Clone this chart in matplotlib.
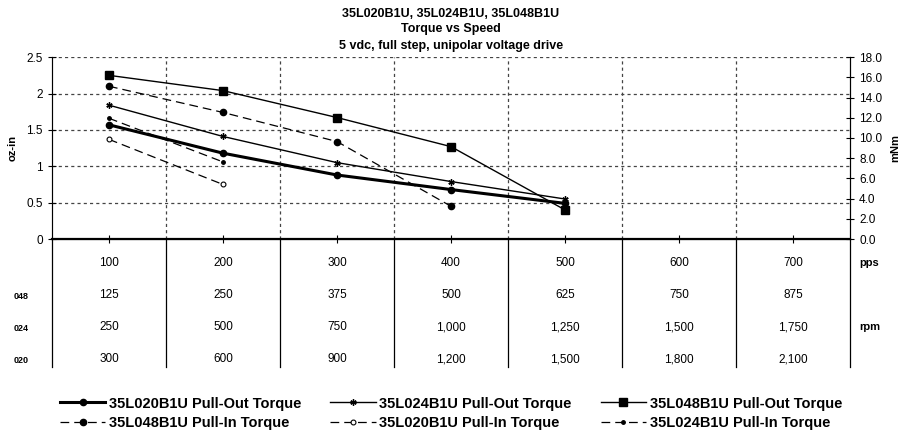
import matplotlib.pyplot as plt

pps = [100, 200, 300, 400, 500, 600, 700]
rpm_048 = ["125", "250", "375", "500", "625", "750", "875"]
rpm_024 = ["250", "500", "750", "1,000", "1,250", "1,500", "1,750"]
rpm_020 = ["300", "600", "900", "1,200", "1,500", "1,800", "2,100"]

po_020 = [1.57, 1.18, 0.88, 0.68, 0.49]
po_024 = [1.84, 1.41, 1.05, 0.79, 0.55]
po_048 = [2.25, 2.04, 1.67, 1.27, 0.40]
pi_048 = [2.10, 1.74, 1.34, 0.45]
pi_020 = [1.37, 0.75]
pi_024 = [1.66, 1.06]

plt.rcParams['font.family'] = ['Liberation Sans', 'DejaVu Sans']
NARROW = ['Liberation Sans Narrow', 'Liberation Sans', 'DejaVu Sans']


def main():
    fig = plt.figure(figsize=(9.02, 4.33), dpi=100)
    ax = fig.add_axes([0.0576, 0.448, 0.8848, 0.42])
    xs = [i + 0.5 for i in range(len(pps))]
    dash = (0, (7, 4))

    l1, = ax.plot(xs[:len(po_020)], po_020, color='k', lw=2.2, marker='o', ms=4.5,
                  label='35L020B1U Pull-Out Torque')
    l2, = ax.plot(xs[:len(po_024)], po_024, color='k', lw=1, marker=(6, 2, 0), ms=4.5,
                  mew=1, label='35L024B1U Pull-Out Torque')
    l3, = ax.plot(xs[:len(po_048)], po_048, color='k', lw=1, marker='s', ms=6,
                  label='35L048B1U Pull-Out Torque')
    l4, = ax.plot(xs[:len(pi_048)], pi_048, color='k', lw=0.9, ls=dash, marker='o', ms=4.5,
                  label='35L048B1U Pull-In Torque')
    l5, = ax.plot(xs[:len(pi_020)], pi_020, color='k', lw=0.9, ls=dash, marker='o', ms=3.5,
                  mfc='white', mew=0.8, label='35L020B1U Pull-In Torque')
    l6, = ax.plot(xs[:len(pi_024)], pi_024, color='k', lw=0.9, ls=dash, marker='o', ms=2.5,
                  label='35L024B1U Pull-In Torque')

    ax.set_xlim(0, 7)
    ax.set_ylim(0, 2.5)
    ax.set_yticks([0, 0.5, 1, 1.5, 2, 2.5])
    ax.set_yticklabels(['0', '0.5', '1', '1.5', '2', '2.5'])
    ax.set_xticks(xs)
    ax.set_xticklabels([])
    ax.tick_params(axis='both', direction='inout', length=6, width=0.8, labelsize=8.5)
    for v in [0.5, 1, 1.5, 2, 2.5]:
        ax.axhline(v, color='#444444', lw=0.9, ls=(0, (2.5, 2.5)), zorder=0)
    for v in range(1, 7):
        ax.axvline(v, color='#444444', lw=0.9, ls=(0, (2.5, 2.5)), zorder=0)
    ax.spines['top'].set_visible(False)
    ax.spines['bottom'].set_linewidth(1.6)
    ax.spines['left'].set_color('#555555')
    ax.set_ylabel('oz-in', fontsize=8, fontweight='bold', labelpad=6)

    ax2 = ax.twinx()
    ax2.set_ylim(0, 18)
    ax2.set_yticks([0, 2, 4, 6, 8, 10, 12, 14, 16, 18])
    ax2.set_yticklabels([f'{v:.1f}' for v in range(0, 19, 2)])
    ax2.tick_params(axis='y', direction='inout', length=6, width=0.8, labelsize=8.5)
    ax2.spines['top'].set_visible(False)
    ax2.set_ylabel('mNm', fontsize=8, fontweight='bold', labelpad=6)

    fig.text(0.5, 0.967, '35L020B1U, 35L024B1U, 35L048B1U', ha='center', va='center',
             fontsize=9, fontweight='bold')
    fig.text(0.5, 0.932, 'Torque vs Speed', ha='center', va='center',
             fontsize=9, fontweight='bold')
    fig.text(0.5, 0.894, '5 vdc, full step, unipolar voltage drive', ha='center', va='center',
             fontsize=9, fontweight='bold')

    # speed table under the chart
    tb = fig.add_axes([0.0576, 0.152, 0.8848, 0.296])
    tb.set_xlim(0, 7)
    tb.set_ylim(3.25, -0.75)
    tb.axis('off')
    for v in range(0, 8):
        tb.axvline(v, color='k', lw=0.9, clip_on=False)
    rows = [[str(p) for p in pps], rpm_048, rpm_024, rpm_020]
    for r, vals in enumerate(rows):
        for i, t in enumerate(vals):
            tb.text(i + 0.5, r, t, ha='center', va='center', fontsize=8.5, family=NARROW)
    for r, t in [(1, '048'), (2, '024'), (3, '020')]:
        tb.text(-0.27, r + 0.05, t, ha='center', va='center', fontsize=6.5, fontweight='bold',
                family=NARROW)
    tb.text(7.08, 0, 'pps', ha='left', va='center', fontsize=8, fontweight='bold')
    tb.text(7.08, 2, 'rpm', ha='left', va='center', fontsize=8, fontweight='bold')

    order = [l1, l4, l2, l5, l3, l6]
    fig.legend(order, [h.get_label() for h in order],
               ncol=3, loc='center', bbox_to_anchor=(0.5, 0.046), frameon=False,
               handlelength=3.1, columnspacing=2.0, labelspacing=0.35, handletextpad=0.25,
               prop={'size': 10.5, 'weight': 'bold'})

    fig.savefig('out.png', dpi=100)


if __name__ == "__main__":
    main()
